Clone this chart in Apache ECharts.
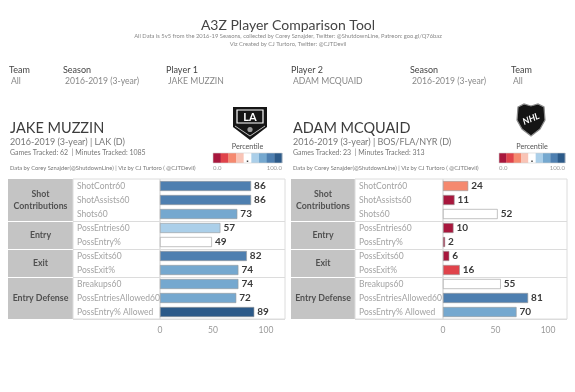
<!DOCTYPE html>
<html><head><meta charset="utf-8">
<script src="https://cdn.jsdelivr.net/npm/echarts@6/dist/echarts.min.js"></script>
<style>html,body{margin:0;padding:0;background:#fff}#c{width:575px;height:392px}</style>
</head><body><div id="c"></div>
<script>
// ---------------- data ----------------
const metrics = ['ShotContr60','ShotAssists60','Shots60','PossEntries60','PossEntry%','PossExits60','PossExit%','Breakups60','PossEntriesAllowed60','PossEntry% Allowed'];
const groupNames = ['Shot\nContributions','Entry','Exit','Entry Defense'];
const groupSizes = [3,2,2,3];
const player1Values = [86,86,73,57,49,82,74,74,72,89];
const player2Values = [24,11,52,10,2,6,16,55,81,70];
const percentileBreaks = [11.11,22.22,33.33,44.44,55.56,66.67,77.78,88.89];
const percentilePalette = ['#a8173d','#e0434b','#f5896f','#f9c4b6','#ffffff','#abcfe9','#75a8cf','#4e7fb0','#2c5a89'];
const filterLabels = ['Team','Season','Player 1','Player 2','Season','Team'];
const filterValues = ['All','2016-2019 (3-year)','JAKE MUZZIN','ADAM MCQUAID','2016-2019 (3-year)','All'];
const playerNames = ['JAKE MUZZIN','ADAM MCQUAID'];
const playerSeasonLines = ['2016-2019 (3-year) | LAK (D)','2016-2019 (3-year) | BOS/FLA/NYR (D)'];
const playerTrackedLines = ['Games Tracked: 62  | Minutes Tracked: 1085','Games Tracked: 23  | Minutes Tracked: 313'];
const creditLine = 'Data by Corey Sznajder(@ShutdownLine) | Viz by CJ Turtoro ( @CJTDevil)';
const titleText = 'A3Z Player Comparison Tool';
const subtitleLines = ['All Data is 5v5 from the 2016-19 Seasons, collected by Corey Sznajder, Twitter: @ShutdownLine, Patreon: goo.gl/Q76baz','Viz Created by CJ Turtoro, Twitter: @CJTDevil'];
const legendEnds = ['0.0','100.0'];
const axisMax = 118;

// ---------------- layout ----------------
const FONT = 'Lato';
const panels = [
  {box:8, gw:65, lw:87, pw:125, textX:10, logoX:232, legX:213, legW:69},
  {box:291, gw:64, lw:88, pw:124, textX:293, logoX:517, legX:499, legW:66}
];
const TOP = 179, H = 140;
const filterX = [9,63,166,291,410,511];

// derived group structure
const boundaries = [];
const groupCenters = [];
let acc = 0;
groupSizes.forEach((s,i)=>{ groupCenters.push(acc + s/2); acc += s; if (acc < metrics.length) boundaries.push(acc); });

function binColor(v){
  let i = 0; while (i < percentileBreaks.length && v >= percentileBreaks[i]) i++;
  return percentilePalette[i];
}
function txt(text,x,y,size,color,align,weight,extra){
  return Object.assign({type:'text', silent:true, style:{text, x, y, fill:color,
    font:(weight||'normal')+' '+size+'px '+FONT, textAlign:align||'left', textVerticalAlign:'middle'}}, extra||{});
}

const grid=[], xAxis=[], yAxis=[], series=[], graphic=[];
const values = [player1Values, player2Values];

panels.forEach((p,pi)=>{
  const gi = grid.length;
  // group column
  grid.push({left:p.box, top:TOP, width:p.gw, height:H, show:true, backgroundColor:'#c4c4c4', borderWidth:0});
  xAxis.push({gridIndex:gi, type:'value', min:0, max:1, show:false});
  yAxis.push({gridIndex:gi, type:'value', min:0, max:metrics.length, inverse:true, show:false});
  series.push({type:'scatter', xAxisIndex:gi, yAxisIndex:gi, symbolSize:0, silent:true,
    data: groupNames.map((n,i)=>({name:n, value:[0.5, groupCenters[i]]})),
    label:{show:true, position:'inside', formatter:'{b}', color:'#333', fontFamily:FONT, fontWeight:'bold', fontSize:8.8, lineHeight:12, align:'center'},
    markLine:{silent:true, symbol:'none', label:{show:false}, lineStyle:{color:'#fff', width:1, type:'solid'},
      data: boundaries.map(b=>({yAxis:b}))}
  });
  // label column
  grid.push({left:p.box+p.gw, top:TOP, width:p.lw, height:H, show:true, borderColor:'#dcdcdc', borderWidth:1});
  xAxis.push({gridIndex:gi+1, type:'value', min:0, max:1, show:false});
  yAxis.push({gridIndex:gi+1, type:'category', data:metrics, inverse:true,
    axisLine:{show:false}, axisTick:{show:false}, axisLabel:{show:false},
    splitLine:{show:true, interval:(idx)=>boundaries.includes(idx), lineStyle:{color:'#dcdcdc', width:1}}});
  // plot column
  const left = p.box+p.gw+p.lw;
  grid.push({left:left, top:TOP, width:p.pw, height:H, show:true, borderColor:'#dcdcdc', borderWidth:1});
  xAxis.push({gridIndex:gi+2, type:'value', min:0, max:axisMax, interval:50,
    axisLine:{show:false}, axisTick:{show:false}, splitLine:{show:false},
    axisLabel:{color:'#999', fontSize:8.5, fontFamily:FONT, margin:7, formatter:(v)=> v%50===0 ? String(v) : ''}});
  yAxis.push({gridIndex:gi+2, type:'category', data:metrics, inverse:true,
    axisLine:{show:false}, axisTick:{show:false},
    axisLabel:{color:'#a3a3a3', fontSize:8.5, fontFamily:FONT, align:'left', margin:p.lw-4},
    splitLine:{show:true, interval:(idx)=>boundaries.includes(idx), lineStyle:{color:'#dcdcdc', width:1}}});
  series.push({type:'bar', xAxisIndex:gi+2, yAxisIndex:gi+2, barWidth:10, silent:true,
    data: values[pi],
    itemStyle:{color:(d)=>binColor(d.value), borderColor:'#9a9a9a', borderWidth:0.6},
    label:{show:true, position:'right', distance:3, color:'#3a3a3a', fontFamily:FONT, fontWeight:'bold', fontSize:10}
  });

  // player header texts
  graphic.push(txt(playerNames[pi], p.textX, 128, 14.5, '#3c3c3c', 'left', 'normal'));
  graphic.push(txt(playerSeasonLines[pi], p.textX, 142, 9, '#777', 'left'));
  graphic.push(txt(playerTrackedLines[pi], p.textX, 153, 7, '#777', 'left'));
  graphic.push(txt(creditLine, p.textX, 168, 5.8, '#777', 'left'));

  // percentile legend
  const cw = p.legW / percentilePalette.length;
  graphic.push(txt('Percentile', p.legX + p.legW/2, 147, 7.2, '#555', 'center'));
  percentilePalette.forEach((c,i)=>{
    graphic.push({type:'rect', silent:true, shape:{x:p.legX+i*cw, y:153, width:cw+0.3, height:10}, style:{fill:c}});
  });
  graphic.push({type:'rect', silent:true, shape:{x:p.legX, y:153, width:p.legW, height:10}, style:{fill:'none', stroke:'#d0d0d0', lineWidth:0.6}});
  graphic.push({type:'rect', silent:true, shape:{x:p.legX+4.5*cw-0.75, y:160.5, width:1.5, height:1.5}, style:{fill:'#444'}});
  graphic.push(txt(legendEnds[0], p.legX, 168, 6, '#999', 'left'));
  graphic.push(txt(legendEnds[1], p.legX+p.legW, 168, 6, '#999', 'right'));
});

// LA Kings style logo
(function(){
  const x=232;
  graphic.push({type:'polygon', silent:true, shape:{points:[[x+1,107],[x+35,107],[x+35,127],[x+18,140],[x+1,127]]}, style:{fill:'#151515'}});
  graphic.push({type:'rect', silent:true, shape:{x:x+5, y:110, width:26, height:13}, style:{fill:'#151515', stroke:'#fff', lineWidth:1.2}});
  graphic.push({type:'text', silent:true, style:{text:'LA', x:x+18, y:117, fill:'#fff', font:'bold 11px '+FONT, textAlign:'center', textVerticalAlign:'middle'}});
  graphic.push({type:'polyline', silent:true, shape:{points:[[x+3,126],[x+18,136],[x+33,126]]}, style:{stroke:'#bdbdbd', lineWidth:1, fill:'none'}});
  graphic.push({type:'circle', silent:true, shape:{cx:x+18, cy:129.5, r:2.6}, style:{fill:'#9a9a9a'}});
})();
// NHL style logo
(function(){
  const cx=531;
  graphic.push({type:'polygon', silent:true, shape:{points:[[cx-13,107],[cx-7,104],[cx,106],[cx+7,104],[cx+13,107],[cx+14,120],[cx+9,129],[cx,136],[cx-9,129],[cx-14,120]]}, style:{fill:'#141414', stroke:'#8c8c8c', lineWidth:1.2}});
  graphic.push({type:'text', silent:true, x:cx, y:119, rotation:0.4, style:{text:'NHL', x:0, y:0, fill:'#fff', font:'bold italic 9px '+FONT, textAlign:'center', textVerticalAlign:'middle'}});
})();

// header
graphic.push(txt(titleText, 288, 25, 14, '#444', 'center'));
graphic.push(txt(subtitleLines[0], 288, 36, 5.8, '#888', 'center'));
graphic.push(txt(subtitleLines[1], 288, 44, 5.8, '#888', 'center'));
filterLabels.forEach((l,i)=> graphic.push(txt(l, filterX[i], 70, 9, '#444', 'left')));
filterValues.forEach((v,i)=> graphic.push(txt(v, filterX[i]+2, 81, 8.6, '#888', 'left')));

const chart = echarts.init(document.getElementById('c'), null, {renderer:'canvas'});
chart.setOption({animation:false, backgroundColor:'#fff', grid, xAxis, yAxis, series, graphic});
</script>
</body></html>
